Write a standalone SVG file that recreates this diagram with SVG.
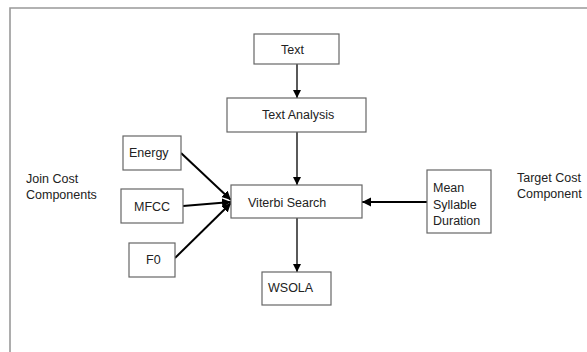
<svg xmlns="http://www.w3.org/2000/svg" width="587" height="352" viewBox="0 0 587 352">
<style>
.box{fill:#fff;stroke:#666;stroke-width:1.2}
.t{font-family:"Liberation Sans",Arial,sans-serif;font-size:12.5px;fill:#222}
.c{stroke:#000;stroke-width:1.3;fill:none}
.cs{stroke:#000;stroke-width:2;fill:none}
</style>
<defs>
<marker id="ah" markerWidth="10" markerHeight="10" refX="8" refY="4" orient="auto" markerUnits="userSpaceOnUse">
<path d="M0,0 L8,4 L0,8 Z" fill="#000"/>
</marker>
<marker id="ah2" markerWidth="12" markerHeight="12" refX="9" refY="4.5" orient="auto" markerUnits="userSpaceOnUse">
<path d="M0,0 L9,4.5 L0,9 Z" fill="#000"/>
</marker>
</defs>
<rect width="587" height="352" fill="#fff"/>
<path d="M10,352 V8 H587" fill="none" stroke="#999" stroke-width="1.6"/>
<g id="connectors">
<line class="c" x1="297" y1="64" x2="297" y2="98" marker-end="url(#ah)"/>
<line class="c" x1="297" y1="132" x2="297" y2="185" marker-end="url(#ah)"/>
<line class="c" x1="297" y1="218" x2="297" y2="272" marker-end="url(#ah)"/>
<line class="cs" x1="181" y1="153" x2="231" y2="200" marker-end="url(#ah2)"/>
<line class="cs" x1="183" y1="206" x2="231" y2="202" marker-end="url(#ah2)"/>
<line class="cs" x1="175" y1="258" x2="231" y2="203" marker-end="url(#ah2)"/>
<line class="cs" x1="427" y1="202" x2="362" y2="202" marker-end="url(#ah2)"/>
</g>
<g id="text"><rect class="box" x="254" y="34" width="85" height="30"/><text class="t" x="281" y="54">Text</text></g>
<g id="textanalysis"><rect class="box" x="227" y="98" width="139" height="34"/><text class="t" x="262" y="119">Text Analysis</text></g>
<g id="energy"><rect class="box" x="123" y="136" width="58" height="34"/><text class="t" x="129" y="157">Energy</text></g>
<g id="mfcc"><rect class="box" x="121" y="189" width="62" height="34"/><text class="t" x="134" y="211">MFCC</text></g>
<g id="f0"><rect class="box" x="129" y="243" width="46" height="34"/><text class="t" x="146" y="264">F0</text></g>
<g id="viterbi"><rect class="box" x="231" y="185" width="131" height="33"/><text class="t" x="248" y="207">Viterbi Search</text></g>
<g id="mean"><rect class="box" x="427" y="170" width="64" height="63"/><text class="t" x="433" y="192">Mean</text><text class="t" x="433" y="208.5">Syllable</text><text class="t" x="433" y="225">Duration</text></g>
<g id="wsola"><rect class="box" x="262" y="272" width="69" height="33"/><text class="t" x="268" y="292">WSOLA</text></g>
<g id="joincost"><text class="t" x="26" y="183">Join Cost</text><text class="t" x="26" y="199">Components</text></g>
<g id="targetcost"><text class="t" x="517" y="182">Target Cost</text><text class="t" x="517" y="198">Component</text></g>
</svg>
